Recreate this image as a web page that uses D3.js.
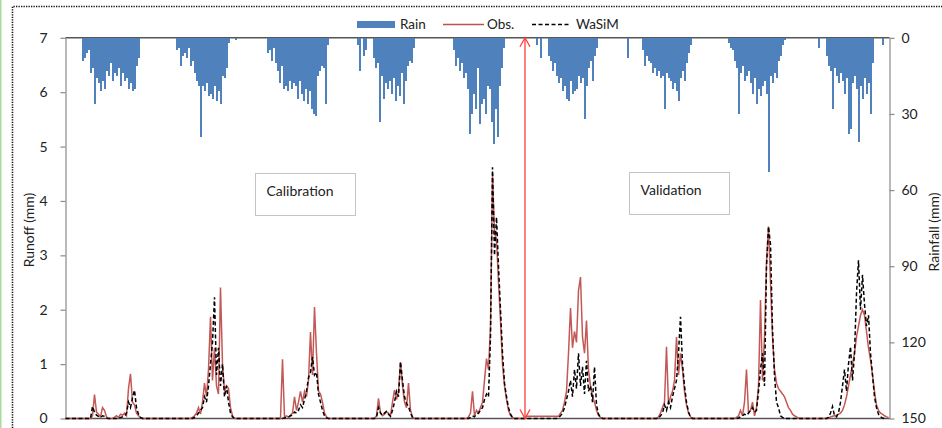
<!DOCTYPE html>
<html>
<head>
<meta charset="utf-8">
<script src="https://cdn.jsdelivr.net/npm/d3@7"></script>
<style>
body { margin: 0; background: #fff; }
svg { display: block; font-family: Lato, "Open Sans", sans-serif; }
</style>
</head>
<body>
<svg id="chart" width="942" height="428"></svg>
<script>
// days between two values of a season / event
var STEP = 8;
var TOTAL_DAYS = 3296;
var DIVIDE_DAY = 1838;

// rainfall (mm), one array per rainy season
var rainStart = [68, 444, 808, 1168, 1552, 1884, 2308, 2652, 3012];
var rain1 = [9,8,6,5,14,12,26,16,18,21,17,20,13,15,10,17,14,15,12,19,14,17,16,20,18,21,20,11,8];
var rain2 = [5,4,11,7,6,8,4,11,9,14,17,19,39,19,21,18,23,22,24,19,25,21,26,15,16,12,2];
var rain3 = [6,5,9,4,10,13,18,11,20,19,21,17,20,18,19,24,17,22,25,20,26,21,28,30,31,15,13,11,12,26,3];
var rain4 = [3,13,0,7,5,0,0,0,8,12,10,33,15,24,18,20,17,22,16,25,19,23,14,26,17,11,9,10,4];
var rain5 = [5,11,8,13,10,16,14,20,38,30,22,28,12,34,26,24,30,19,20,33,42,28,39,19,12,4];
var rain6 = [3,0,8,0,0,0,7,9,13,10,15,18,16,21,19,24,25,17,22,21,20,15,18,16,32,19,12,9,17,7,4];
var rain7 = [5,11,7,9,10,14,12,15,13,16,15,28,14,16,17,20,18,21,25,16,13,17,10,6,3];
var rain8 = [2,4,5,9,12,30,14,11,17,15,13,18,22,16,26,20,23,19,17,22,53,15,18,14,16,9,7,3,1];
var rain9 = [4,0,0,0,7,11,13,28,12,15,18,14,17,22,16,38,36,18,15,20,41,19,24,16,22,18,30,10,0,0,0,0,3];
var rainExtraDay = [680, 2248];
var rainExtraVal = [1, 8];

// observed runoff (mm), one array per flow event
var obsStart = [100, 500, 860, 1236, 1604, 1836, 2364, 2676, 3044];
var obs1 = [0,0.05,0.44,0.12,0.08,0.03,0.2,0.15,0.03,0,0,0,0.02,0.05,0.02,0.08,0.06,0.1,0.05,0.55,0.82,0.3,0.25,0.1,0.05,0.02,0];
var obs2 = [0,0.02,0.05,0.1,0.2,0.08,0.3,0.65,0.4,0.9,1.87,0.7,1.3,0.6,0.45,2.41,1.0,0.5,0.6,0.55,0.2,0.05,0];
var obs3 = [0,1.09,0.03,0.05,0.02,0.06,0.1,0.4,0.15,0.3,0.5,0.3,0.5,0.4,0.7,1.59,0.8,2.05,1.2,0.5,0.45,0.3,0.1,0.03,0];
var obs4 = [0,0.05,0.37,0.1,0.05,0.08,0.12,0.1,0.05,0.3,0.52,0.35,0.5,1.04,0.6,0.3,0.2,0.65,0.15,0.03,0];
var obs5 = [0,0.03,0.1,0.5,0.05,0.15,0.1,0.2,0.3,0.7,1.1,0.9,1.7,4.5,3.4,3.3,2.5,1.8,1.0,0.6,0.35,0.15,0.06,0.02,0];
var obs6 = [0,0.04,0.04,0.04,0.04,0.04,0.04,0.04,0.04,0.04,0.04,0.04,0.04,0.04,0.04,0.04,0.04,0.04,
            0.1,0.15,0.3,0.5,1.2,2.03,1.3,1.6,1.4,2.35,2.6,1.5,1.2,1.8,0.9,0.6,0.4,0.3,0.15,0.06,0.02,0];
var obs7 = [0,0.03,0.1,0.2,0.3,1.32,0.25,0.4,0.5,0.7,1.5,0.8,1.2,0.9,0.5,0.25,0.1,0.03,0];
var obs8 = [0,0.02,0.05,0.15,0.05,0.3,0.9,0.1,0.15,0.3,0.05,0.2,0.6,2.18,0.7,1.5,2.88,3.53,2.5,1.5,0.9,0.65,0.55,0.5,0.45,0.4,0.3,0.2,0.15,0.08,0.05,0.03,0.01,0];
var obs9 = [0,0.01,0.03,0.04,0.05,0.06,0.08,0.1,0.15,0.25,0.4,0.6,0.8,1.0,1.2,1.5,1.7,1.9,2.0,1.9,1.6,1.3,1.08,0.8,0.5,0.25,0.15,0.1,0.08,0.05,0.03,0.02];

// simulated runoff WaSiM (mm)
var simStart = [100, 500, 860, 1236, 1604, 1964, 2364, 2676, 3044];
var sim1 = [0,0.22,0.12,0.06,0.04,0.02,0.05,0.04,0.01,0,0,0,0,0,0,0.02,0.03,0.04,0.1,0.3,0.2,0.38,0.52,0.2,0.08,0.02,0];
var sim2 = [0,0,0.02,0.05,0.1,0.15,0.2,0.4,0.3,0.6,1.0,1.4,2.23,0.8,1.3,0.6,1.0,0.4,0.6,0.3,0.1,0.03,0];
var sim3 = [0,0,0.01,0.02,0.03,0.05,0.06,0.12,0.1,0.15,0.25,0.2,0.35,0.5,0.75,0.85,1.13,0.8,0.85,0.45,0.3,0.15,0.05,0.01,0];
var sim4 = [0,0.02,0.2,0.1,0.06,0.1,0.13,0.08,0.04,0.15,0.3,0.5,0.4,1.04,0.7,0.4,0.28,0.22,0.1,0.02,0];
var sim5 = [0,0,0.02,0.05,0.03,0.08,0.1,0.15,0.2,0.35,0.45,0.4,1.5,4.62,3.0,3.7,2.8,2.0,1.2,0.65,0.4,0.2,0.08,0.02,0];
var sim6 = [0,0.02,0.05,0.1,0.2,0.35,0.5,0.7,0.4,0.9,0.55,1.2,0.6,0.95,0.45,1.06,0.5,0.6,0.3,0.95,0.25,0.08,0.02,0];
var sim7 = [0,0,0.05,0.1,0.25,0.15,0.3,0.2,0.4,0.55,0.7,1.2,1.87,1.0,0.6,0.3,0.12,0.03,0];
var sim8 = [0,0,0.01,0.03,0.05,0.08,0.06,0.1,0.15,0.2,0.12,0.15,0.5,0.9,1.2,0.6,2.8,3.53,3.2,1.63,0.8,0.3,0.2,0.05,0.02,0];
var sim9 = [0,0.02,0.1,0.22,0.05,0.03,0.1,0.3,0.6,0.9,0.5,1.0,1.32,0.7,1.2,2.3,2.91,2.0,2.64,2.1,1.7,1.9,1.2,0.8,0.4,0.2,0.08,0.03,0.01,0];

var runoffTicks = [0, 1, 2, 3, 4, 5, 6, 7];
var rainTicks = [0, 30, 60, 90, 120, 150];

function toPoints(starts, parts) {
  var pts = [{day: 0, v: 0}];
  parts.forEach(function (vals, k) {
    vals.forEach(function (v, i) {
      pts.push({day: starts[k] + i * STEP, v: v});
    });
  });
  return pts;
}

var rainBars = [];
[rain1, rain2, rain3, rain4, rain5, rain6, rain7, rain8, rain9].forEach(function (vals, k) {
  vals.forEach(function (v, i) {
    if (v > 0) rainBars.push({day: rainStart[k] + i * STEP, v: v});
  });
});
rainExtraDay.forEach(function (d, i) { rainBars.push({day: d, v: rainExtraVal[i]}); });

var obsPts = toPoints(obsStart, [obs1, obs2, obs3, obs4, obs5, obs6, obs7, obs8, obs9]);
var simPts = toPoints(simStart, [sim1, sim2, sim3, sim4, sim5, sim6, sim7, sim8, sim9]);

var svg = d3.select("#chart");
var plotL = 65.5, plotR = 889.5, plotT = 37.8, plotB = 418.5;

var x = d3.scaleLinear().domain([0, TOTAL_DAYS]).range([plotL, plotR]);
var yRun = d3.scaleLinear().domain([0, 7]).range([plotB, plotT]);
var yRain = d3.scaleLinear().domain([0, 150]).range([plotT, plotB]);

// frame of the picture
svg.append("line").attr("x1", 0.75).attr("x2", 0.75).attr("y1", 0).attr("y2", 428)
  .attr("stroke", "#a9dc9c").attr("stroke-width", 1.5);
svg.append("path").attr("d", "M12.5,428 V6.5 H942")
  .attr("fill", "none").attr("stroke", "#111").attr("stroke-width", 1.6)
  .attr("stroke-dasharray", "1.3,1.2");

// top line of the rain axis
svg.append("line").attr("x1", plotL).attr("x2", plotR)
  .attr("y1", yRain(0)).attr("y2", yRain(0))
  .attr("stroke", "#555").attr("stroke-width", 1.5);

// rain bars hanging from the top
var bw = x(STEP) - x(0);
svg.append("g").attr("shape-rendering", "crispEdges")
  .selectAll("rect")
  .data(rainBars)
  .enter().append("rect")
  .attr("x", function (d) { return x(d.day) - bw / 2; })
  .attr("y", yRain(0))
  .attr("width", bw)
  .attr("height", function (d) { return yRain(d.v) - yRain(0); })
  .attr("fill", "#4f81bd");

// axes
var axL = svg.append("g").attr("transform", "translate(" + plotL + ",0)")
  .call(d3.axisLeft(yRun).tickValues(runoffTicks).tickFormat(d3.format("d"))
    .tickSize(5).tickSizeOuter(0).tickPadding(13));
var axR = svg.append("g").attr("transform", "translate(" + plotR + ",0)")
  .call(d3.axisRight(yRain).tickValues(rainTicks).tickFormat(d3.format("d"))
    .tickSize(5).tickSizeOuter(0).tickPadding(7));
[axL, axR].forEach(function (ax) {
  ax.select(".domain").attr("stroke", "#8a8a8a").attr("stroke-width", 1.2);
  ax.selectAll(".tick line").attr("stroke", "#8a8a8a").attr("stroke-width", 1.2);
  ax.selectAll(".tick text").attr("fill", "#222").style("font-size", "14px")
    .style("font-family", "Lato, 'Open Sans', sans-serif");
});

// zero line of runoff
svg.append("line").attr("x1", plotL).attr("x2", plotR)
  .attr("y1", yRun(0)).attr("y2", yRun(0))
  .attr("stroke", "#555").attr("stroke-width", 1.5);

var line = d3.line()
  .x(function (d) { return x(d.day); })
  .y(function (d) { return yRun(d.v); });

svg.append("path").datum(obsPts)
  .attr("d", line).attr("fill", "none")
  .attr("stroke", "#c0504d").attr("stroke-width", 1.5).attr("stroke-opacity", 0.95);
svg.append("path").datum(simPts)
  .attr("d", line).attr("fill", "none")
  .attr("stroke", "#000").attr("stroke-width", 1.5).attr("stroke-dasharray", "4,2.5");

// calibration / validation divider with arrow heads
var dx = x(DIVIDE_DAY);
var redArrow = "#ff3b3b";
svg.append("line").attr("x1", dx).attr("x2", dx).attr("y1", yRun(7)).attr("y2", yRun(0))
  .attr("stroke", redArrow).attr("stroke-width", 1.3);
svg.append("path")
  .attr("d", "M" + (dx - 5) + "," + (yRun(7) + 9) + " L" + dx + "," + yRun(7) + " L" + (dx + 5) + "," + (yRun(7) + 9))
  .attr("fill", "none").attr("stroke", redArrow).attr("stroke-width", 1.3);
svg.append("path")
  .attr("d", "M" + (dx - 5) + "," + (yRun(0) - 9) + " L" + dx + "," + yRun(0) + " L" + (dx + 5) + "," + (yRun(0) - 9))
  .attr("fill", "none").attr("stroke", redArrow).attr("stroke-width", 1.3);

// text boxes
function textBox(bx, by, label) {
  svg.append("rect").attr("x", bx).attr("y", by).attr("width", 100).attr("height", 42)
    .attr("fill", "#fff").attr("stroke", "#c4c4c4").attr("stroke-width", 1);
  svg.append("text").attr("x", bx + 11).attr("y", by + 22)
    .attr("fill", "#222").style("font-size", "14px").text(label);
}
textBox(255.5, 173.5, "Calibration");
textBox(629.5, 172.5, "Validation");

// axis titles
svg.append("text").attr("transform", "translate(34,230) rotate(-90)")
  .attr("text-anchor", "middle").attr("fill", "#222").style("font-size", "14px")
  .text("Runoff (mm)");
svg.append("text").attr("transform", "translate(939,232) rotate(-90)")
  .attr("text-anchor", "middle").attr("fill", "#222").style("font-size", "14px")
  .text("Rainfall (mm)");

// legend
var lg = svg.append("g").style("font-size", "13.5px");
lg.append("rect").attr("x", 357).attr("y", 21).attr("width", 38).attr("height", 7).attr("fill", "#4f81bd");
lg.append("text").attr("x", 400).attr("y", 29).attr("fill", "#222").text("Rain");
lg.append("line").attr("x1", 443).attr("x2", 484).attr("y1", 24.5).attr("y2", 24.5)
  .attr("stroke", "#c0504d").attr("stroke-width", 1.4);
lg.append("text").attr("x", 487).attr("y", 29).attr("fill", "#222").text("Obs.");
lg.append("line").attr("x1", 532).attr("x2", 571).attr("y1", 24.5).attr("y2", 24.5)
  .attr("stroke", "#000").attr("stroke-width", 1.5).attr("stroke-dasharray", "4,2.5");
lg.append("text").attr("x", 576).attr("y", 29).attr("fill", "#222").text("WaSiM");
</script>
</body>
</html>
